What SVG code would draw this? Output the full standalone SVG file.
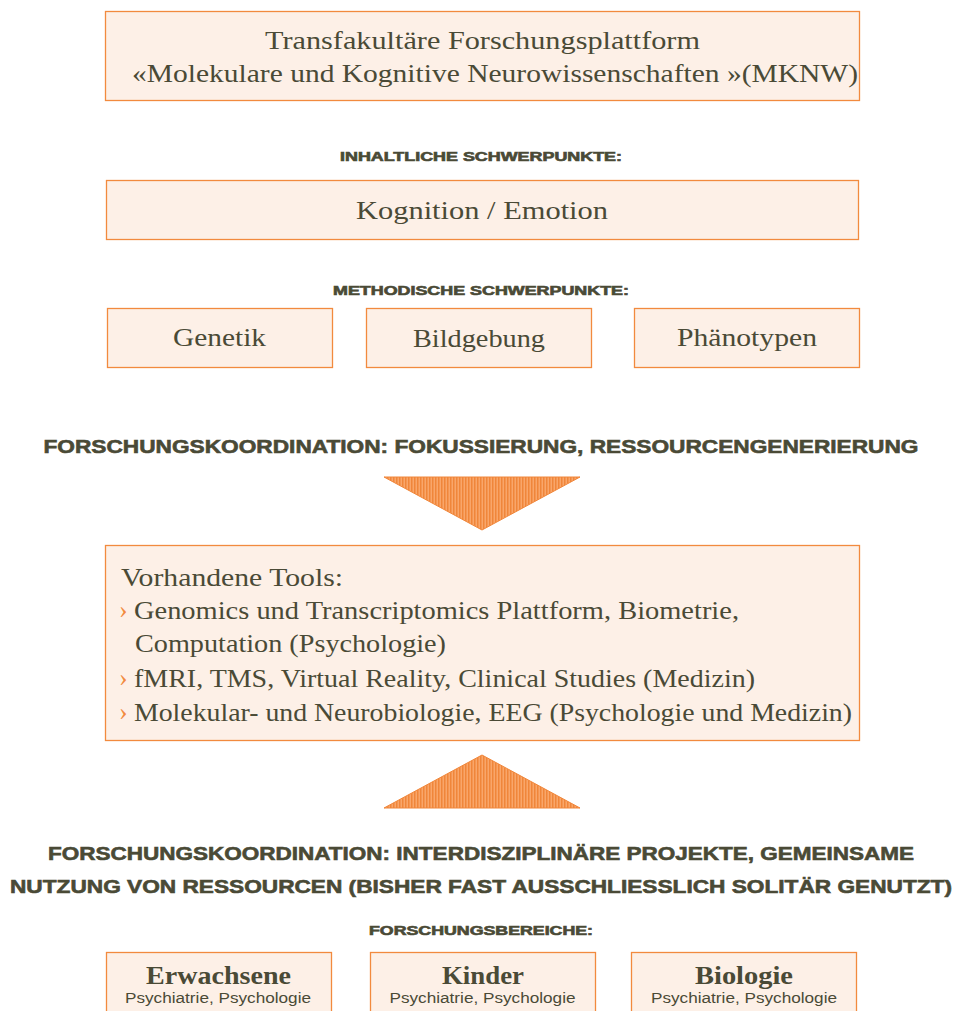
<svg xmlns="http://www.w3.org/2000/svg" width="962" height="1011" viewBox="0 0 962 1011">
<defs>
<pattern id="hatch" width="3" height="4" patternUnits="userSpaceOnUse">
<rect width="3" height="4" fill="#f9a66a"/>
<rect width="1.5" height="4" fill="#f0863a"/>
</pattern>
<style>
.box{fill:#fdf0e7;stroke:#f28a3e;stroke-width:1.3}
.serif{font-family:"Liberation Serif","DejaVu Serif",serif;fill:#4a4a36;font-size:26px}
.head{font-family:"Liberation Sans","DejaVu Sans",sans-serif;font-weight:bold;fill:#4a4a36;stroke:#4a4a36;stroke-width:0.6;text-anchor:middle}
.sub{font-family:"Liberation Sans","DejaVu Sans",sans-serif;fill:#4a4a36;font-size:14px;text-anchor:middle}
.tri{fill:url(#hatch);stroke:#f0863a;stroke-width:1}
.bullet{fill:#f28a3e}
</style>
</defs>
<rect width="962" height="1011" fill="#ffffff"/>

<g id="top">
<rect class="box" x="105.5" y="11.5" width="754" height="89"/>
<text class="serif" x="265" y="49" textLength="435" lengthAdjust="spacingAndGlyphs">Transfakultäre Forschungsplattform</text>
<text class="serif" x="132" y="82" textLength="726" lengthAdjust="spacingAndGlyphs">«Molekulare und Kognitive Neurowissenschaften »(MKNW)</text>
</g>

<text class="head" x="481" y="161" font-size="12" textLength="282" lengthAdjust="spacingAndGlyphs">INHALTLICHE SCHWERPUNKTE:</text>

<g id="kognition">
<rect class="box" x="106.5" y="180.5" width="752" height="59"/>
<text class="serif" x="356" y="219" textLength="252" lengthAdjust="spacingAndGlyphs">Kognition / Emotion</text>
</g>

<text class="head" x="481" y="295" font-size="12" textLength="296" lengthAdjust="spacingAndGlyphs">METHODISCHE SCHWERPUNKTE:</text>

<g id="genetik">
<rect class="box" x="107.5" y="308.5" width="225" height="59"/>
<text class="serif" x="173" y="346" textLength="93" lengthAdjust="spacingAndGlyphs">Genetik</text>
</g>
<g id="bildgebung">
<rect class="box" x="366.5" y="308.5" width="225" height="59"/>
<text class="serif" x="413" y="347" textLength="132" lengthAdjust="spacingAndGlyphs">Bildgebung</text>
</g>
<g id="phaenotypen">
<rect class="box" x="634.5" y="308.5" width="225" height="59"/>
<text class="serif" x="677" y="346" textLength="140" lengthAdjust="spacingAndGlyphs">Phänotypen</text>
</g>

<text class="head" x="481" y="453" font-size="19" textLength="875" lengthAdjust="spacingAndGlyphs">FORSCHUNGSKOORDINATION: FOKUSSIERUNG, RESSOURCENGENERIERUNG</text>

<g id="connectors">
<polygon class="tri" points="384,477 580,477 482,530"/>
<polygon class="tri" points="384,808 580,808 482,755"/>
</g>

<g id="tools">
<rect class="box" x="105.5" y="545.5" width="754" height="195"/>
<text class="serif" x="121" y="586" textLength="222" lengthAdjust="spacingAndGlyphs">Vorhandene Tools:</text>
<text class="serif bullet" x="119" y="618">›</text>
<text class="serif" x="134" y="619" textLength="605" lengthAdjust="spacingAndGlyphs">Genomics und Transcriptomics Plattform, Biometrie,</text>
<text class="serif" x="135" y="652" textLength="311" lengthAdjust="spacingAndGlyphs">Computation (Psychologie)</text>
<text class="serif bullet" x="119" y="686">›</text>
<text class="serif" x="134" y="687" textLength="621" lengthAdjust="spacingAndGlyphs">fMRI, TMS, Virtual Reality, Clinical Studies (Medizin)</text>
<text class="serif bullet" x="119" y="720">›</text>
<text class="serif" x="134" y="721" textLength="718" lengthAdjust="spacingAndGlyphs">Molekular- und Neurobiologie, EEG (Psychologie und Medizin)</text>
</g>

<text class="head" x="481" y="860" font-size="19" textLength="866" lengthAdjust="spacingAndGlyphs">FORSCHUNGSKOORDINATION: INTERDISZIPLINÄRE PROJEKTE, GEMEINSAME</text>
<text class="head" x="481" y="893" font-size="19" textLength="942" lengthAdjust="spacingAndGlyphs">NUTZUNG VON RESSOURCEN (BISHER FAST AUSSCHLIESSLICH SOLITÄR GENUTZT)</text>

<text class="head" x="481" y="935" font-size="12" textLength="224" lengthAdjust="spacingAndGlyphs">FORSCHUNGSBEREICHE:</text>

<g id="erwachsene">
<rect class="box" x="106.5" y="952.5" width="225" height="70"/>
<text class="serif" x="146" y="984" font-weight="bold" textLength="145" lengthAdjust="spacingAndGlyphs">Erwachsene</text>
<text class="sub" x="218" y="1003" textLength="186" lengthAdjust="spacingAndGlyphs">Psychiatrie, Psychologie</text>
</g>
<g id="kinder">
<rect class="box" x="370.5" y="952.5" width="225" height="70"/>
<text class="serif" x="442" y="984" font-weight="bold" textLength="82" lengthAdjust="spacingAndGlyphs">Kinder</text>
<text class="sub" x="482.5" y="1003" textLength="186" lengthAdjust="spacingAndGlyphs">Psychiatrie, Psychologie</text>
</g>
<g id="biologie">
<rect class="box" x="631.5" y="952.5" width="225" height="70"/>
<text class="serif" x="695" y="984" font-weight="bold" textLength="98" lengthAdjust="spacingAndGlyphs">Biologie</text>
<text class="sub" x="744" y="1003" textLength="186" lengthAdjust="spacingAndGlyphs">Psychiatrie, Psychologie</text>
</g>
</svg>
